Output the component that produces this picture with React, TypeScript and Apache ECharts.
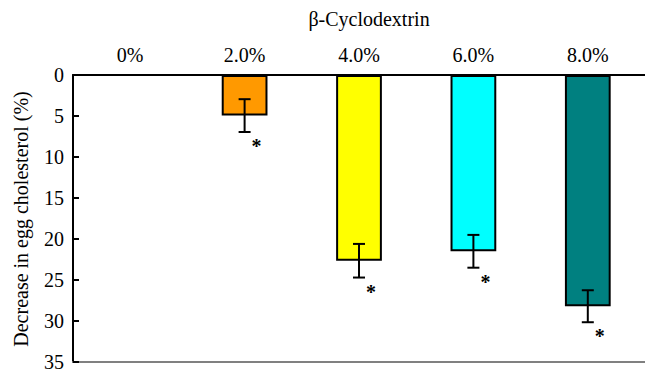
import React, { useEffect, useRef } from "react";
import * as echarts from "echarts";

const categories = ["0%", "2.0%", "4.0%", "6.0%", "8.0%"];
const means = [0, 4.95, 22.65, 21.5, 28.2];
const errors = [0, 2.0, 2.05, 2.0, 1.95];
const significant = [false, true, true, true, true];
const colors = ["#FF9900", "#FF9900", "#FFFF00", "#00FFFF", "#008080"];
const yTicks = { min: 0, max: 35, interval: 5 };

const FONT = "Liberation Serif";

export default function App() {
  const ref = useRef<HTMLDivElement>(null);
  useEffect(() => {
    if (!ref.current) return;
    const chart = echarts.init(ref.current, undefined, { renderer: "svg" });
    const labelStyle = { color: "#000", fontFamily: FONT, fontSize: 20 };
    chart.setOption({
      animation: false,
      backgroundColor: "#ffffff",
      textStyle: { fontFamily: FONT },
      grid: { left: 73, top: 75, right: 0, bottom: 8 },
      xAxis: [
        {
          type: "category",
          position: "top",
          data: categories,
          axisLine: { lineStyle: { color: "#000", width: 2 } },
          axisTick: { inside: true, length: 6, lineStyle: { color: "#000", width: 2 } },
          axisLabel: { ...labelStyle, margin: 10 },
        },
        {
          type: "category",
          position: "bottom",
          data: categories,
          axisLine: { lineStyle: { color: "#808080", width: 2 } },
          axisTick: { show: false },
          axisLabel: { show: false },
        },
      ],
      yAxis: {
        type: "value",
        inverse: true,
        min: yTicks.min,
        max: yTicks.max,
        interval: yTicks.interval,
        splitLine: { show: false },
        axisLine: { show: true, lineStyle: { color: "#000", width: 2 } },
        axisTick: { show: true, inside: true, length: 6, lineStyle: { color: "#000", width: 2 } },
        axisLabel: { ...labelStyle, margin: 9 },
      },
      graphic: [
        {
          type: "text",
          x: 369,
          y: 19,
          style: {
            text: "β-Cyclodextrin",
            fill: "#000",
            fontFamily: FONT,
            fontSize: 20,
            align: "center",
            verticalAlign: "middle",
          },
        },
        {
          type: "text",
          x: 21,
          y: 219,
          rotation: Math.PI / 2,
          style: {
            text: "Decrease in egg cholesterol (%)",
            fill: "#000",
            fontFamily: FONT,
            fontSize: 20,
            align: "center",
            verticalAlign: "middle",
          },
        },
      ],
      series: [
        {
          type: "bar",
          xAxisIndex: 0,
          barWidth: "40%",
          data: means.map((v, i) => ({
            value: v,
            itemStyle: { color: colors[i], borderColor: "#000", borderWidth: 2 },
          })),
        },
        {
          type: "custom",
          xAxisIndex: 0,
          data: means.map((m, i) => [i, m, errors[i], significant[i] ? 1 : 0]),
          encode: { x: 0, y: 1 },
          z: 10,
          renderItem: (params: any, api: any) => {
            const idx = api.value(0);
            const m = api.value(1);
            const e = api.value(2);
            const sig = api.value(3);
            if (e <= 0) return { type: "group", children: [] };
            const top = api.coord([idx, m - e]);
            const bot = api.coord([idx, m + e]);
            const x = top[0];
            const cap = 6;
            const style = { stroke: "#000", lineWidth: 2 };
            const children: any[] = [
              { type: "line", shape: { x1: x, y1: top[1], x2: x, y2: bot[1] }, style },
              { type: "line", shape: { x1: x - cap, y1: top[1], x2: x + cap, y2: top[1] }, style },
              { type: "line", shape: { x1: x - cap, y1: bot[1], x2: x + cap, y2: bot[1] }, style },
            ];
            if (sig) {
              children.push({
                type: "text",
                x: x + 12,
                y: bot[1] + 14,
                style: {
                  text: "*",
                  fill: "#000",
                  fontFamily: FONT,
                  fontWeight: "bold",
                  fontSize: 20,
                  align: "center",
                  verticalAlign: "middle",
                },
              });
            }
            return { type: "group", children };
          },
        },
      ],
    });
    return () => chart.dispose();
  }, []);
  return (
    <div
      ref={ref}
      style={{ position: "fixed", left: 0, top: 0, width: 645, height: 372 }}
    />
  );
}
